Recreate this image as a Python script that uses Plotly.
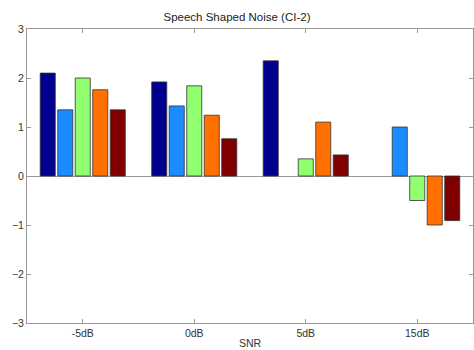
import plotly.graph_objects as go

categories = ["-5dB", "0dB", "5dB", "15dB"]
series_names = ["S1", "S2", "S3", "S4", "S5"]
colors = ["#00008F", "#1A8CFF", "#90FF70", "#FF7000", "#800000"]
s1 = [2.10, 1.92, 2.35, None]
s2 = [1.35, 1.43, None, 1.00]
s3 = [2.00, 1.84, 0.35, -0.50]
s4 = [1.76, 1.24, 1.10, -1.00]
s5 = [1.35, 0.76, 0.43, -0.91]
series = [s1, s2, s3, s4, s5]
yticks = [-3, -2, -1, 0, 1, 2, 3]

fig = go.Figure()
for name, vals, c in zip(series_names, series, colors):
    fig.add_trace(go.Bar(x=[1, 2, 3, 4], y=vals, name=name, marker=dict(color=c, line=dict(color="#333333", width=0.8))))

fig.update_layout(
    width=474, height=350,
    margin=dict(l=27, r=1, t=29, b=27),
    paper_bgcolor="white", plot_bgcolor="white",
    barmode="group", bargap=0.215, bargroupgap=0.14,
    showlegend=False,
    font=dict(family="Liberation Sans, Arial", size=10, color="#333333"),
    title=dict(text="Speech Shaped Noise (CI-2)", x=0.5, xanchor="center", y=1 - 17/350, yanchor="middle",
               font=dict(size=11.5, color="#222222")),
)
fig.update_xaxes(
    range=[0.5, 4.5], tickvals=[1, 2, 3, 4], ticktext=categories,
    ticks="inside", ticklen=4, tickcolor="#999999",
    showline=True, linecolor="#999999", linewidth=1, mirror="ticks",
    showgrid=False, zeroline=False,
    title=dict(text="SNR", standoff=2, font=dict(size=10.5)),
    tickfont=dict(size=10.5, color="#333333"),
)
fig.update_yaxes(
    range=[-3, 3], tickvals=yticks,
    ticks="inside", ticklen=4, tickcolor="#999999",
    showline=True, linecolor="#999999", linewidth=1, mirror="ticks",
    showgrid=False, zeroline=True, zerolinecolor="#999999", zerolinewidth=1,
    tickfont=dict(size=10.5, color="#333333"),
)
fig.write_html("out.html")
